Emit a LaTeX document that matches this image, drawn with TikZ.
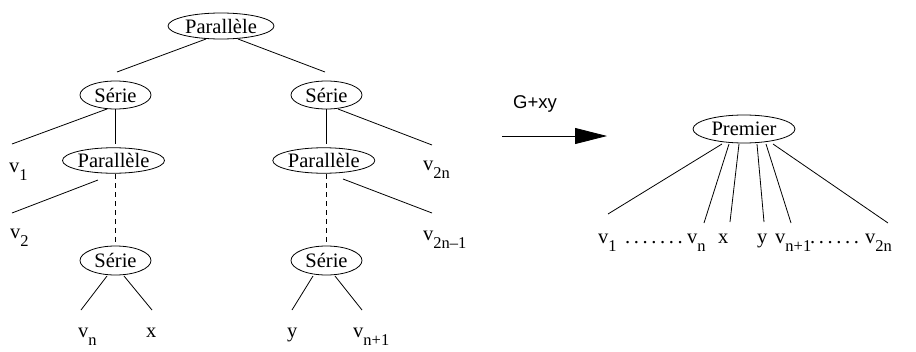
\documentclass[tikz,border=0pt]{standalone}
\usepackage{fontspec}
\setmainfont{Liberation Serif}
\setsansfont{Liberation Sans}
\usetikzlibrary{shapes.geometric,arrows.meta}
\newcommand{\vsub}[1]{v\raisebox{-8pt}{\fontsize{16.5}{18}\selectfont #1}}
\newcommand{\dd}{.\hspace{3.6pt}}
\begin{document}
\begin{tikzpicture}[x=1pt,y=-1pt,
  ell/.style={ellipse, draw, inner sep=0pt, line width=0.8pt, font=\fontsize{20.5}{24}\selectfont},
  lbl/.style={anchor=base west, inner sep=0pt, font=\fontsize{20.5}{24}\selectfont},
  edge/.style={line width=0.8pt},
  dashedge/.style={line width=0.8pt, dash pattern=on 5pt off 4pt}]
\useasboundingbox (0,0) rectangle (916,351);
% left tree nodes
\node[ell, minimum width=106pt, minimum height=26pt] (P0) at (221,26) {Parallèle};
\node[ell, minimum width=71pt, minimum height=28pt] (S1) at (115.5,95) {Série};
\node[ell, minimum width=71pt, minimum height=28pt] (S2) at (326.5,95) {Série};
\node[ell, minimum width=102pt, minimum height=25.5pt] (P1) at (113.5,160.5) {Parallèle};
\node[ell, minimum width=102pt, minimum height=25.5pt] (P2) at (323.8,160.5) {Parallèle};
\node[ell, minimum width=71pt, minimum height=29pt] (S3) at (115.5,260.5) {Série};
\node[ell, minimum width=71pt, minimum height=29pt] (S4) at (326.5,260.5) {Série};
% labels
\node[lbl] (l1) at (9,172) {\vsub{1}};
\node[lbl] (l2) at (10,238) {\vsub{2}};
\node[lbl] (l2n) at (423,170) {\vsub{2n}};
\node[lbl] (l2n1) at (423,240) {\vsub{2n\textendash 1}};
\node[lbl] (ln) at (78,337) {\vsub{n}};
\node[lbl] (lx) at (146,337) {x};
\node[lbl] (ly) at (287,337) {y};
\node[lbl] (ln1) at (353,337) {\vsub{n+1}};
% endpoints
\coordinate (a1) at (206,39);   \coordinate (b1) at (117,72);
\coordinate (a2) at (238,39);   \coordinate (b2) at (325,72);
\coordinate (a3) at (107,109);  \coordinate (b3) at (12,144);
\coordinate (a4) at (115.7,109);\coordinate (b4) at (115.7,144);
\coordinate (a5) at (326,109);  \coordinate (b5) at (326,144);
\coordinate (a6) at (338,109);  \coordinate (b6) at (432,145);
\coordinate (a7) at (98,180);   \coordinate (b7) at (12,213);
\coordinate (a8) at (115.7,174);\coordinate (b8) at (115.7,243);
\coordinate (a9) at (326,174);  \coordinate (b9) at (326,243);
\coordinate (a10) at (343,179); \coordinate (b10) at (432,213);
\coordinate (a11) at (107,276); \coordinate (b11) at (81,310);
\coordinate (a12) at (124,276); \coordinate (b12) at (152,310);
\coordinate (a13) at (313,276); \coordinate (b13) at (292,310);
\coordinate (a14) at (335,276); \coordinate (b14) at (362,310);
\foreach \i in {1,2,3,4,5,6,7,10,11,12,13,14} \draw[edge] (a\i) -- (b\i);
\draw[dashedge] (a8) -- (b8);
\draw[dashedge] (a9) -- (b9);
% arrow
\coordinate (ar0) at (502,136);
\coordinate (ar1) at (607,136);
\draw[edge, -{Triangle[length=32pt,width=16pt]}] (ar0) -- (ar1);
\node[anchor=base west, inner sep=0pt, font=\sffamily\fontsize{18.5}{22}\selectfont] (gxy) at (513,108) {G+xy};
% right tree
\node[ell, minimum width=102pt, minimum height=28pt] (PR) at (744,129) {Premier};
\node[lbl] (r1) at (598,243) {\vsub{1}};
\node[lbl] (d1) at (625,243) {\dd\dd\dd\dd\dd\dd.};
\node[lbl] (rn) at (687,243) {\vsub{n}};
\node[lbl] (rx) at (718,243) {x};
\node[lbl] (ry) at (757,243) {y};
\node[lbl] (rn1) at (775,243) {\vsub{n+1}};
\node[lbl] (d2) at (810,243) {\dd\dd\dd\dd\dd.};
\node[lbl] (r2n) at (865,243) {\vsub{2n}};
\coordinate (c1) at (722,144); \coordinate (e1) at (608,214);
\coordinate (c2) at (729,144); \coordinate (e2) at (704,223);
\coordinate (c3) at (739,144); \coordinate (e3) at (730,222);
\coordinate (c4) at (757,144); \coordinate (e4) at (764,222);
\coordinate (c5) at (766,144); \coordinate (e5) at (791,223);
\coordinate (c6) at (773,144); \coordinate (e6) at (888,223);
\foreach \i in {1,...,6} \draw[edge] (c\i) -- (e\i);
\end{tikzpicture}
\end{document}
